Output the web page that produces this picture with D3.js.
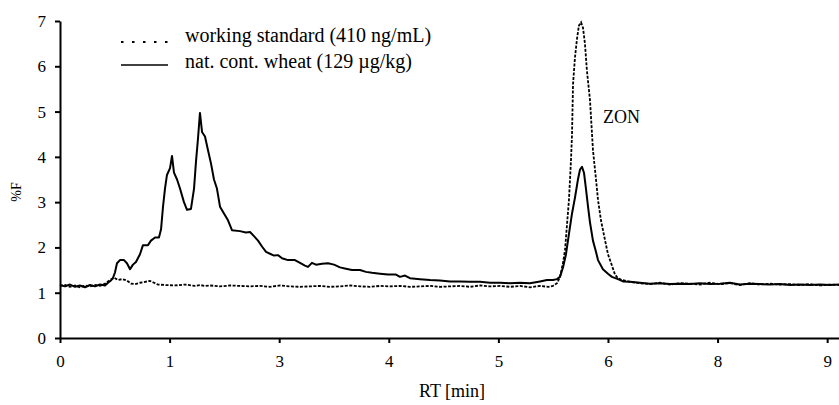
<!DOCTYPE html>
<html>
<head>
<meta charset="utf-8">
<script src="https://cdn.jsdelivr.net/npm/d3@7"></script>
<style>
  body { margin: 0; background: #fff; }
  #chart { width: 839px; height: 405px; }
  text { font-family: "Liberation Serif", "DejaVu Serif", serif; fill: #000; }
</style>
</head>
<body>
<div id="chart"></div>
<script>
// Chromatogram – wheat extract vs. working standard (ZON)

// x axis: tick positions and the labels printed under them
const xTickPos = [0, 1, 2, 3, 4, 5, 6, 7];
const xTickLabels = ["0", "1", "3", "4", "5", "6", "8", "9"];
const yTicks = [0, 1, 2, 3, 4, 5, 6, 7];

const seriesNames = ["working standard (410 ng/mL)", "nat. cont. wheat (129 \u00b5g/kg)"];

// nat. cont. wheat (solid)
const wheatX = [0, 0.046, 0.091, 0.137, 0.182, 0.228, 0.274, 0.319, 0.365, 0.411, 0.438, 0.465, 0.484, 0.502, 0.520,
  0.547, 0.584, 0.611, 0.639, 0.666, 0.693, 0.730, 0.757, 0.803, 0.830, 0.867, 0.903, 0.922, 0.940, 0.958, 0.976,
  1.004, 1.022, 1.040, 1.068, 1.095, 1.131, 1.159, 1.195, 1.223, 1.241, 1.259, 1.277, 1.296, 1.323, 1.350, 1.378,
  1.405, 1.432, 1.460, 1.496, 1.533, 1.569, 1.642, 1.697, 1.734, 1.770, 1.807, 1.843, 1.880, 1.916, 1.953, 1.989,
  2.026, 2.080, 2.144, 2.190, 2.235, 2.263, 2.299, 2.336, 2.391, 2.445, 2.500, 2.555, 2.609, 2.664, 2.737, 2.792,
  2.847, 2.920, 2.993, 3.066, 3.102, 3.148, 3.193, 3.285, 3.376, 3.467, 3.558, 3.650, 3.741, 3.832, 3.923, 4.015,
  4.106, 4.197, 4.288, 4.380, 4.443, 4.498, 4.535, 4.562, 4.589, 4.617, 4.644, 4.672, 4.699, 4.726, 4.745, 4.763,
  4.781, 4.799, 4.818, 4.836, 4.863, 4.891, 4.909, 4.954, 5.000, 5.036, 5.091, 5.137, 5.201, 5.292, 5.383, 5.474,
  5.566, 5.657, 5.748, 5.839, 5.931, 6.022, 6.113, 6.204, 6.296, 6.387, 6.478, 6.569, 6.661, 6.752, 6.843, 6.934,
  7.026, 7.108];
const wheatY = [1.17, 1.14, 1.18, 1.13, 1.16, 1.12, 1.17, 1.14, 1.18, 1.16, 1.22, 1.27, 1.33, 1.45, 1.65,
  1.72, 1.72, 1.65, 1.52, 1.62, 1.68, 1.85, 2.05, 2.05, 2.15, 2.22, 2.22, 2.40, 2.90, 3.30, 3.60,
  3.75, 4.02, 3.65, 3.50, 3.30, 3.00, 2.83, 2.85, 3.30, 3.90, 4.40, 4.97, 4.55, 4.45, 4.15, 3.85,
  3.50, 3.30, 2.90, 2.75, 2.60, 2.38, 2.36, 2.33, 2.34, 2.25, 2.15, 2.02, 1.90, 1.86, 1.82, 1.83,
  1.76, 1.72, 1.72, 1.66, 1.60, 1.57, 1.66, 1.62, 1.64, 1.65, 1.62, 1.56, 1.53, 1.50, 1.50, 1.46,
  1.44, 1.42, 1.40, 1.40, 1.35, 1.38, 1.32, 1.30, 1.28, 1.27, 1.25, 1.25, 1.24, 1.24, 1.22, 1.22,
  1.21, 1.22, 1.21, 1.25, 1.28, 1.28, 1.30, 1.35, 1.55, 1.85, 2.30, 2.75, 3.10, 3.50, 3.72, 3.78,
  3.65, 3.30, 2.90, 2.55, 2.15, 1.90, 1.72, 1.52, 1.42, 1.35, 1.30, 1.25, 1.24, 1.22, 1.20, 1.21,
  1.19, 1.20, 1.19, 1.21, 1.19, 1.20, 1.22, 1.18, 1.20, 1.19, 1.18, 1.19, 1.17, 1.18, 1.17, 1.18,
  1.17, 1.18];

// working standard (dotted)
const stdX = [0, 0.046, 0.091, 0.137, 0.182, 0.228, 0.274, 0.319, 0.365, 0.411, 0.456, 0.493, 0.529, 0.566, 0.611,
  0.648, 0.684, 0.730, 0.776, 0.821, 0.858, 0.894, 0.958, 1.049, 1.141, 1.232, 1.277, 1.323, 1.369, 1.460, 1.551,
  1.642, 1.734, 1.825, 1.916, 2.007, 2.099, 2.190, 2.281, 2.372, 2.464, 2.555, 2.646, 2.737, 2.828, 2.920, 3.011,
  3.102, 3.193, 3.285, 3.376, 3.467, 3.558, 3.650, 3.741, 3.832, 3.923, 4.015, 4.106, 4.197, 4.288, 4.380, 4.453,
  4.498, 4.535, 4.562, 4.589, 4.608, 4.626, 4.644, 4.662, 4.672, 4.681, 4.699, 4.717, 4.735, 4.754, 4.772, 4.790,
  4.808, 4.836, 4.863, 4.891, 4.909, 4.936, 4.973, 5.000, 5.036, 5.064, 5.091, 5.128, 5.201, 5.292, 5.383, 5.474,
  5.566, 5.657, 5.748, 5.839, 5.931, 6.022, 6.113, 6.204, 6.296, 6.387, 6.478, 6.569, 6.661, 6.752, 6.843, 6.934,
  7.026, 7.108];
const stdY = [1.15, 1.17, 1.13, 1.16, 1.12, 1.16, 1.14, 1.17, 1.15, 1.20, 1.28, 1.33, 1.28, 1.30, 1.27,
  1.20, 1.19, 1.22, 1.24, 1.26, 1.22, 1.18, 1.17, 1.16, 1.18, 1.15, 1.17, 1.15, 1.16, 1.14, 1.16,
  1.15, 1.14, 1.15, 1.13, 1.16, 1.14, 1.13, 1.14, 1.15, 1.13, 1.14, 1.16, 1.14, 1.13, 1.15, 1.14,
  1.15, 1.13, 1.14, 1.15, 1.13, 1.14, 1.15, 1.13, 1.16, 1.14, 1.15, 1.13, 1.15, 1.12, 1.15, 1.13,
  1.15, 1.21, 1.35, 1.65, 1.94, 2.50, 3.05, 3.90, 4.50, 5.60, 6.20, 6.60, 6.90, 6.97, 6.85, 6.50,
  5.90, 5.25, 4.15, 3.50, 3.05, 2.60, 2.16, 1.85, 1.60, 1.40, 1.32, 1.28, 1.24, 1.21, 1.19, 1.22,
  1.18, 1.21, 1.20, 1.18, 1.22, 1.19, 1.21, 1.17, 1.21, 1.18, 1.20, 1.18, 1.19, 1.17, 1.19, 1.16,
  1.18, 1.17];

function renderChart(containerId) {
  const container = d3.select(`#${containerId}`);
  const width = 839, height = 405;
  const margin = { top: 21, right: 0, bottom: 67, left: 60 };
  const innerWidth = width - margin.left - margin.right;
  const innerHeight = height - margin.top - margin.bottom;

  const svg = container.append("svg")
    .attr("width", width)
    .attr("height", height);

  const g = svg.append("g")
    .attr("transform", `translate(${margin.left},${margin.top})`);

  const x = d3.scaleLinear().domain([0, 7.108]).range([0, innerWidth]);
  const y = d3.scaleLinear().domain([0, 7]).range([innerHeight, 0]);

  // axes
  const xAxis = g.append("g")
    .attr("transform", `translate(0,${innerHeight})`)
    .call(d3.axisBottom(x).tickValues(xTickPos).tickFormat((d, i) => xTickLabels[i])
      .tickSizeInner(5).tickSizeOuter(0).tickPadding(12));
  const yAxis = g.append("g")
    .call(d3.axisLeft(y).tickValues(yTicks).tickFormat(d3.format("d"))
      .tickSizeInner(5).tickSizeOuter(0).tickPadding(9));

  [xAxis, yAxis].forEach(a => {
    a.select(".domain").attr("stroke", "#000").attr("stroke-width", 2);
    a.selectAll(".tick line").attr("stroke", "#000").attr("stroke-width", 2);
    a.selectAll(".tick text").style("font-family", "Liberation Serif, serif").style("font-size", "17px").attr("fill", "#000");
  });

  const line = d3.line().x(d => x(d[0])).y(d => y(d[1]));

  const stdData = stdX.map((v, i) => [v, stdY[i]]);
  const wheatData = wheatX.map((v, i) => [v, wheatY[i]]);

  g.append("path")
    .datum(stdData)
    .attr("fill", "none")
    .attr("stroke", "#000")
    .attr("stroke-width", 1.8)
    .attr("stroke-dasharray", "3,1.5")
    .attr("d", line);

  g.append("path")
    .datum(wheatData)
    .attr("fill", "none")
    .attr("stroke", "#000")
    .attr("stroke-width", 2)
    .attr("stroke-linejoin", "round")
    .attr("d", line);

  // peak label
  g.append("text")
    .attr("x", x(4.954))
    .attr("y", y(4.75))
    .style("font-size", "18px")
    .text("ZON");

  // legend
  const legend = svg.append("g");
  const legendRows = [
    { name: seriesNames[0], dash: "2.5,8.5", yPos: 42 },
    { name: seriesNames[1], dash: null, yPos: 65 }
  ];
  legendRows.forEach(r => {
    legend.append("line")
      .attr("x1", 121).attr("x2", 168)
      .attr("y1", r.yPos).attr("y2", r.yPos)
      .attr("stroke", "#000")
      .attr("stroke-width", r.dash ? 2 : 1.5)
      .attr("stroke-dasharray", r.dash);
    legend.append("text")
      .attr("x", 185)
      .attr("y", r.yPos + (r.dash ? 0 : 3))
      .style("font-size", "20px")
      .text(r.name);
  });

  // axis titles
  svg.append("text")
    .attr("x", 452)
    .attr("y", 397)
    .attr("text-anchor", "middle")
    .style("font-size", "18px")
    .text("RT [min]");

  svg.append("text")
    .attr("transform", "rotate(-90)")
    .attr("x", -192)
    .attr("y", 21)
    .attr("text-anchor", "middle")
    .style("font-size", "14px")
    .text("%F");
}

document.addEventListener("DOMContentLoaded", () => {
  renderChart("chart");
});
</script>
</body>
</html>
